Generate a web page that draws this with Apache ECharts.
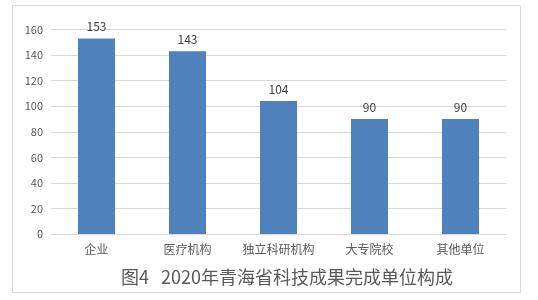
<!DOCTYPE html>
<html><head><meta charset="utf-8">
<script src="https://cdn.jsdelivr.net/npm/echarts@6/dist/echarts.min.js"></script>
<style>html,body{margin:0;padding:0;background:#fff}#c{width:538px;height:300px}</style>
</head><body><div id="c"></div>
<script>
var categories = ['企业','医疗机构','独立科研机构','大专院校','其他单位'];
var values = [153, 143, 104, 90, 90];
var yTicks = [0, 20, 40, 60, 80, 100, 120, 140, 160];
var titleText = '图4   2020年青海省科技成果完成单位构成';

var chart = echarts.init(document.getElementById('c'), null, {renderer:'canvas'});
var font = '"Microsoft YaHei","Noto Sans CJK SC","DejaVu Sans",sans-serif';
chart.setOption({
  animation: false,
  textStyle: {fontFamily: font},
  graphic: [{
    type: 'rect', shape: {x: 12.5, y: 5.5, width: 508, height: 287},
    style: {fill: 'none', stroke: '#d9d9d9', lineWidth: 1}, silent: true
  }],
  title: {
    text: titleText, left: 282, top: 263, textAlign: 'center',
    textStyle: {fontSize: 18, fontWeight: 'normal', color: '#595959', fontFamily: font}
  },
  grid: {left: 51, right: 32, top: 29.5, bottom: 66, containLabel: false},
  xAxis: {
    type: 'category', data: categories,
    axisLine: {lineStyle: {color: '#d9d9d9'}},
    axisTick: {show: false},
    axisLabel: {color: '#595959', fontSize: 12, margin: 9, interval: 0, fontFamily: font}
  },
  yAxis: {
    type: 'value', min: yTicks[0], max: yTicks[yTicks.length-1], interval: 20,
    axisLine: {show: false}, axisTick: {show: false},
    axisLabel: {color: '#595959', fontSize: 11, margin: 8, fontFamily: font},
    splitLine: {lineStyle: {color: '#d9d9d9'}}
  },
  series: [{
    type: 'bar', data: values, barWidth: 37,
    itemStyle: {color: '#4f81bd'},
    label: {show: true, position: 'top', color: '#404040', fontSize: 12, distance: 6, fontFamily: font}
  }]
});
</script></body></html>
